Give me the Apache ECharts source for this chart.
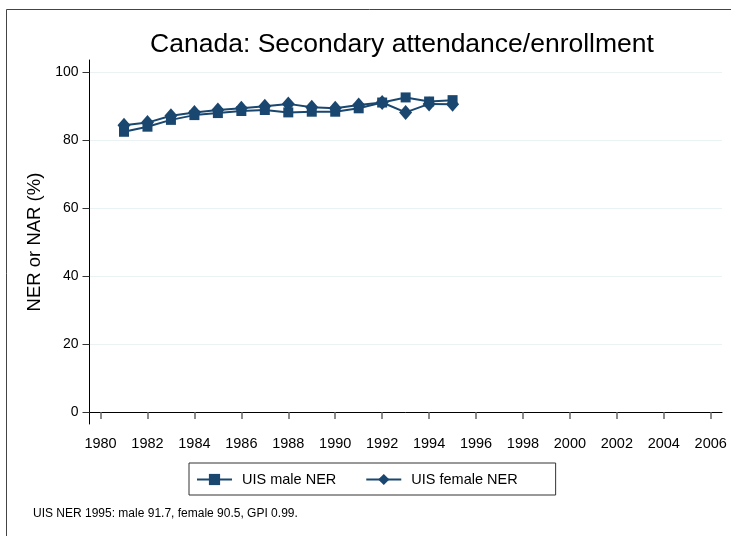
<!DOCTYPE html>
<html>
<head>
<meta charset="utf-8">
<script src="https://cdn.jsdelivr.net/npm/echarts@6/dist/echarts.min.js"></script>
<style>html,body{margin:0;padding:0;background:#fff;overflow:hidden}#c{width:731px;height:536px}</style>
</head>
<body>
<div id="c"></div>
<script>
const years = [1981,1982,1983,1984,1985,1986,1987,1988,1989,1990,1991,1992,1993,1994,1995];
const maleNER = [82.4,83.9,85.9,87.3,87.9,88.5,88.8,88.1,88.3,88.3,89.3,91.0,92.5,91.3,91.7];
const femaleNER = [84.3,85.1,87.1,88.1,88.8,89.3,89.9,90.6,89.6,89.3,90.3,91.0,88.1,90.6,90.5];
const xTicks = [1980,1982,1984,1986,1988,1990,1992,1994,1996,1998,2000,2002,2004,2006];
const yTicks = [0,20,40,60,80,100];
const titleText = 'Canada: Secondary attendance/enrollment';
const noteText = 'UIS NER 1995: male 91.7, female 90.5, GPI 0.99.';

const navy = '#1a476f';
const font = 'Liberation Sans, Arial, sans-serif';
const chart = echarts.init(document.getElementById('c'), null, {renderer: 'canvas'});
chart.setOption({
  backgroundColor: '#fff',
  animation: false,
  title: {
    text: titleText, left: 397, top: 26, textAlign: 'center',
    textStyle: {fontFamily: font, fontSize: 26.5, fontWeight: 'normal', color: '#000'}
  },
  graphic: [
    {type: 'polyline', shape: {points: [[6.5, 700], [6.5, 9.5], [900, 9.5]]},
     style: {fill: null, stroke: '#444', lineWidth: 1}, silent: true},
    {type: 'text', left: 33, top: 508,
     style: {text: noteText, fontFamily: font, fontSize: 12, fill: '#000'}}
  ],
  grid: {left: 89.5, right: 9, top: 60, bottom: 112, containLabel: false},
  legend: {
    left: 189, top: 463,
    itemWidth: 35, itemHeight: 14, itemGap: 29,
    padding: [9, 38, 8, 7],
    borderColor: '#333', borderWidth: 1, backgroundColor: '#fff',
    textStyle: {fontFamily: font, fontSize: 14.5, color: '#000', padding: [0, 0, 0, 5]},
    data: ['UIS male NER', 'UIS female NER']
  },
  xAxis: {
    type: 'value', min: 1979.53, max: 2006.48,
    axisLine: {show: true, lineStyle: {color: '#000', width: 1}},
    axisTick: {show: true, length: 7, customValues: xTicks, lineStyle: {color: '#666', width: 1.5}},
    axisLabel: {customValues: xTicks, margin: 12, fontFamily: font, fontSize: 14.5, color: '#000',
                formatter: v => String(v)},
    splitLine: {show: false}
  },
  yAxis: {
    type: 'value', min: -3.5, max: 103.5,
    name: 'NER or NAR (%)', nameLocation: 'middle', nameGap: 41,
    nameTextStyle: {fontFamily: font, fontSize: 18.5, color: '#000'},
    axisLine: {show: true, lineStyle: {color: '#000', width: 1}},
    axisTick: {show: true, length: 7, customValues: yTicks, lineStyle: {color: '#333'}},
    axisLabel: {customValues: yTicks, margin: 11, fontFamily: font, fontSize: 14, color: '#000'},
    splitLine: {show: true, lineStyle: {color: '#eaf2f3', width: 1.2}}
  },
  series: [
    {
      name: 'UIS male NER', type: 'line',
      data: years.map((y, i) => [y, maleNER[i]]),
      symbol: 'rect', symbolSize: 10,
      lineStyle: {color: navy, width: 2}, itemStyle: {color: navy},
      z: 3
    },
    {
      name: 'UIS female NER', type: 'line',
      data: years.map((y, i) => [y, femaleNER[i]]),
      symbol: 'diamond', symbolSize: [13, 15],
      lineStyle: {color: navy, width: 2}, itemStyle: {color: navy},
      z: 4
    }
  ]
});
</script>
</body>
</html>
